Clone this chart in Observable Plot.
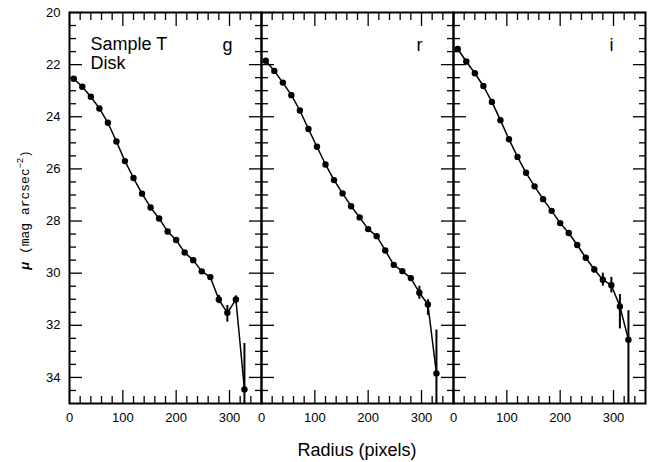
<!DOCTYPE html>
<html>
<head>
<meta charset="utf-8">
<script src="https://cdn.jsdelivr.net/npm/d3@7"></script>
<script src="https://cdn.jsdelivr.net/npm/@observablehq/plot@0.6"></script>
<style>
  html, body { margin: 0; padding: 0; background: #fff; }
  #chart svg { display: block; }
</style>
</head>
<body>
<div id="chart"></div>
<script>
// ---- data ----
const bands = ["g", "r", "i"];
const radius = [8, 24, 40, 56, 72, 88, 104, 120, 136, 152, 168, 184, 200, 216, 232, 248, 264, 280, 296, 312, 328];
const muG = [22.54, 22.85, 23.23, 23.68, 24.23, 24.95, 25.70, 26.35, 26.95, 27.48, 27.90, 28.40, 28.73, 29.21, 29.50, 29.93, 30.15, 31.01, 31.52, 31.01, 34.46];
const errLoG = [0.01, 0.01, 0.01, 0.01, 0.01, 0.02, 0.02, 0.02, 0.02, 0.03, 0.03, 0.04, 0.04, 0.05, 0.06, 0.07, 0.09, 0.16, 0.28, 0.14, 1.76];
const errHiG = [0.01, 0.01, 0.01, 0.01, 0.01, 0.02, 0.02, 0.02, 0.02, 0.03, 0.03, 0.04, 0.04, 0.05, 0.06, 0.07, 0.09, 0.16, 0.36, 0.14, 1.76];
const muR = [21.85, 22.24, 22.69, 23.17, 23.76, 24.47, 25.15, 25.83, 26.43, 26.94, 27.43, 27.86, 28.31, 28.58, 29.13, 29.68, 29.92, 30.19, 30.75, 31.20, 33.85];
const errLoR = [0.01, 0.01, 0.01, 0.01, 0.01, 0.01, 0.02, 0.02, 0.02, 0.02, 0.03, 0.03, 0.04, 0.04, 0.05, 0.06, 0.07, 0.09, 0.25, 0.18, 1.67];
const errHiR = [0.01, 0.01, 0.01, 0.01, 0.01, 0.01, 0.02, 0.02, 0.02, 0.02, 0.03, 0.03, 0.04, 0.04, 0.05, 0.06, 0.07, 0.09, 0.25, 0.42, 1.67];
const muI = [21.40, 21.88, 22.33, 22.82, 23.43, 24.13, 24.86, 25.54, 26.15, 26.67, 27.16, 27.61, 28.08, 28.46, 28.92, 29.41, 29.86, 30.25, 30.46, 31.28, 32.55];
const errLoI = [0.01, 0.01, 0.01, 0.01, 0.01, 0.01, 0.02, 0.02, 0.02, 0.02, 0.03, 0.03, 0.04, 0.05, 0.06, 0.08, 0.12, 0.25, 0.30, 0.46, 1.11];
const errHiI = [0.01, 0.01, 0.01, 0.01, 0.01, 0.01, 0.02, 0.02, 0.02, 0.02, 0.03, 0.03, 0.04, 0.05, 0.06, 0.08, 0.12, 0.25, 0.30, 0.86, 2.60];

const yMajor = [20, 22, 24, 26, 28, 30, 32, 34];
const yMinor = d3.range(20.5, 35, 0.5).filter(v => v % 2 !== 0);
const xMajor = [0, 100, 200, 300];
const xMinor = d3.range(20, 360, 20).filter(v => v % 100 !== 0);
const xLabels = [0, 100, 200, 300];

const sampleLabel = "Sample T\nDisk";
const xTitle = "Radius (pixels)";

const series = { g: [muG, errLoG, errHiG], r: [muR, errLoR, errHiR], i: [muI, errLoI, errHiI] };
const data = bands.flatMap(b => radius.map((r, k) => ({
  band: b, r, mu: series[b][0][k], lo: series[b][1][k], hi: series[b][2][k]
})));

const FONT = "'Liberation Sans', Arial, Helvetica, sans-serif";

function ticks(anchor, values, size) {
  const opts = { anchor, tickSize: -size, tickFormat: () => "", label: null, facetAnchor: null, strokeWidth: 1.3 };
  return anchor === "left" || anchor === "right" ? Plot.axisY(values, opts) : Plot.axisX(values, opts);
}

const plot = Plot.plot({
  width: 654,
  height: 462,
  marginLeft: 69,
  marginRight: 9,
  marginTop: 12,
  marginBottom: 59,
  style: { fontFamily: FONT, fontSize: "13px", color: "black", background: "white" },
  fx: { domain: bands, padding: 0, axis: null },
  x: { domain: [0, 360], axis: null },
  y: { domain: [20, 35], reverse: true, axis: null },
  marks: [
    Plot.ruleX(data, { fx: "band", x: "r", y1: d => d.mu - d.lo, y2: d => d.mu + d.hi, stroke: "black", strokeWidth: 2, clip: true }),
    Plot.lineY(data, { fx: "band", x: "r", y: "mu", stroke: "black", strokeWidth: 1.5, clip: true }),
    Plot.dot(data, { fx: "band", x: "r", y: "mu", r: 3.2, fill: "black", stroke: null, clip: true }),
    ticks("left", yMinor, 7), ticks("left", yMajor, 13),
    ticks("right", yMinor, 7), ticks("right", yMajor, 13),
    ticks("top", xMinor, 7), ticks("top", xMajor, 13),
    ticks("bottom", xMinor, 7), ticks("bottom", xMajor, 13),
    Plot.axisY(yMajor, { anchor: "left", tickSize: 0, tickPadding: 9, label: null, fontSize: 13 }),
    Plot.axisX(xLabels, { anchor: "bottom", tickSize: 0, tickPadding: 9, label: null, fontSize: 13, facetAnchor: null }),
    Plot.frame({ stroke: "black", strokeWidth: 2 }),
    Plot.text(bands, { fx: d => d, text: d => d, frameAnchor: "top-right", textAnchor: "middle", lineAnchor: "bottom", dx: -34, dy: 38, fontSize: 18 }),
    Plot.text([sampleLabel], { fx: () => "g", text: d => d, frameAnchor: "top-left", textAnchor: "start", lineAnchor: "top", dx: 21, dy: 24, fontSize: 18, lineHeight: 1.06 })
  ]
});

document.getElementById("chart").appendChild(plot);

// axis titles
const svg = d3.select(plot);
svg.append("text")
  .attr("x", 357).attr("y", 456)
  .attr("text-anchor", "middle")
  .attr("font-family", FONT)
  .attr("font-size", 18)
  .attr("fill", "black")
  .text(xTitle);

const yt = svg.append("text")
  .attr("transform", "translate(29,210) rotate(-90)")
  .attr("text-anchor", "middle")
  .attr("font-size", 13)
  .attr("fill", "black");
yt.append("tspan").attr("font-family", FONT).attr("font-weight", "bold").attr("font-style", "italic").text("μ");
yt.append("tspan").attr("font-family", "'Liberation Mono', 'DejaVu Sans Mono', monospace").text(" (mag arcsec");
yt.append("tspan").attr("font-family", FONT).attr("font-size", 9).attr("dy", -6).text("−2");
yt.append("tspan").attr("font-family", "'Liberation Mono', 'DejaVu Sans Mono', monospace").attr("dy", 6).text(")");
</script>
</body>
</html>
